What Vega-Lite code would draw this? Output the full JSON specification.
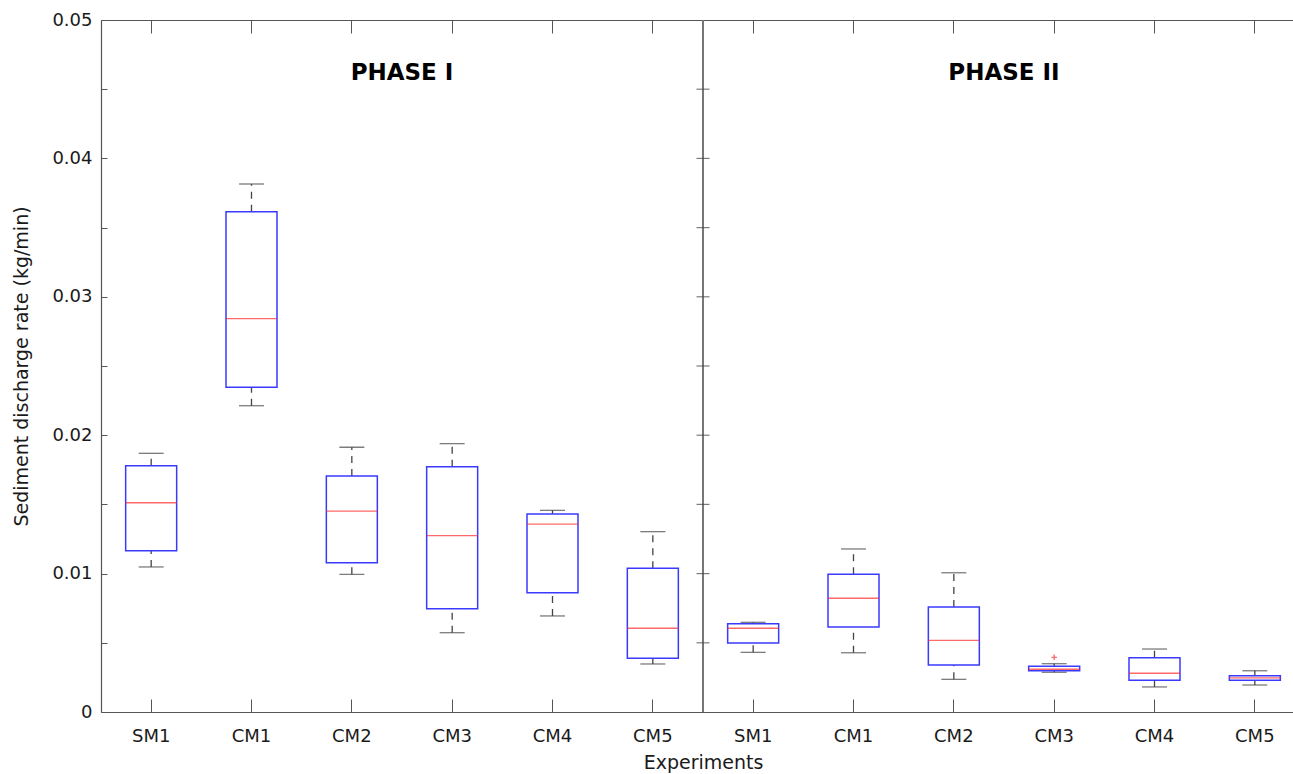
{
  "$schema": "https://vega.github.io/schema/vega-lite/v6.json",
  "width": 1204,
  "height": 692,
  "autosize": "none",
  "padding": {"left": 101, "top": 20, "right": 0, "bottom": 62},
  "background": "white",
  "config": {
    "view": {"stroke": null},
    "font": "DejaVu Sans",
    "axis": {
      "domainColor": "#555",
      "domainWidth": 1.2,
      "tickColor": "#555",
      "tickWidth": 1,
      "labelColor": "#1a1a1a",
      "titleColor": "#1a1a1a",
      "labelFont": "DejaVu Sans",
      "titleFont": "DejaVu Sans",
      "labelFontSize": 18,
      "titleFontSize": 19,
      "titleFontWeight": "normal",
      "grid": false
    }
  },
  "datasets": {
    "boxes": [
      {"key": "I SM1", "lower": 0.01048, "q1": 0.01165, "median": 0.01512, "q3": 0.01780, "upper": 0.01869},
      {"key": "I CM1", "lower": 0.02213, "q1": 0.02346, "median": 0.02842, "q3": 0.03615, "upper": 0.03815},
      {"key": "I CM2", "lower": 0.00995, "q1": 0.01078, "median": 0.01452, "q3": 0.01705, "upper": 0.01913},
      {"key": "I CM3", "lower": 0.00573, "q1": 0.00746, "median": 0.01274, "q3": 0.01772, "upper": 0.01939},
      {"key": "I CM4", "lower": 0.00694, "q1": 0.00862, "median": 0.01358, "q3": 0.01431, "upper": 0.01457},
      {"key": "I CM5", "lower": 0.00347, "q1": 0.00388, "median": 0.00605, "q3": 0.01038, "upper": 0.01303},
      {"key": "II SM1", "lower": 0.00431, "q1": 0.00499, "median": 0.00605, "q3": 0.00638, "upper": 0.00648},
      {"key": "II CM1", "lower": 0.00428, "q1": 0.00614, "median": 0.00822, "q3": 0.00995, "upper": 0.01178},
      {"key": "II CM2", "lower": 0.00236, "q1": 0.00340, "median": 0.00518, "q3": 0.00759, "upper": 0.01006},
      {"key": "II CM3", "lower": 0.00287, "q1": 0.00298, "median": 0.00309, "q3": 0.00330, "upper": 0.00349},
      {"key": "II CM4", "lower": 0.00181, "q1": 0.00229, "median": 0.00280, "q3": 0.00392, "upper": 0.00455},
      {"key": "II CM5", "lower": 0.00195, "q1": 0.00229, "median": 0.00246, "q3": 0.00262, "upper": 0.00298}
    ],
    "outliers": [
      {"key": "II CM3", "value": 0.00395}
    ],
    "divider": [
      {"key": "I CM5", "value": 0.005},
      {"key": "I CM5", "value": 0.010},
      {"key": "I CM5", "value": 0.015},
      {"key": "I CM5", "value": 0.020},
      {"key": "I CM5", "value": 0.025},
      {"key": "I CM5", "value": 0.030},
      {"key": "I CM5", "value": 0.035},
      {"key": "I CM5", "value": 0.040},
      {"key": "I CM5", "value": 0.045}
    ],
    "phases": [
      {"key": "I CM2", "label": "PHASE I"},
      {"key": "II CM2", "label": "PHASE II"}
    ]
  },
  "layer": [
    {
      "data": {"name": "boxes"},
      "mark": {"type": "rule", "color": "#444", "strokeWidth": 1.3, "strokeDash": [7, 6]},
      "encoding": {
        "x": {"field": "key", "type": "nominal", "sort": null, "scale": {"type": "band", "paddingInner": 0, "paddingOuter": 0}, "axis": null},
        "y": {"field": "q3", "type": "quantitative", "scale": {"domain": [0, 0.05], "nice": false}, "axis": null},
        "y2": {"field": "upper"}
      }
    },
    {
      "data": {"name": "boxes"},
      "mark": {"type": "rule", "color": "#444", "strokeWidth": 1.3, "strokeDash": [7, 6]},
      "encoding": {
        "x": {"field": "key", "type": "nominal", "sort": null, "axis": null},
        "y": {"field": "lower", "type": "quantitative", "axis": null},
        "y2": {"field": "q1"}
      }
    },
    {
      "data": {"name": "boxes"},
      "mark": {"type": "tick", "color": "#444", "size": 25, "thickness": 1.3, "orient": "horizontal"},
      "encoding": {
        "x": {"field": "key", "type": "nominal", "sort": null, "axis": null},
        "y": {"field": "upper", "type": "quantitative", "axis": null}
      }
    },
    {
      "data": {"name": "boxes"},
      "mark": {"type": "tick", "color": "#444", "size": 25, "thickness": 1.3, "orient": "horizontal"},
      "encoding": {
        "x": {"field": "key", "type": "nominal", "sort": null, "axis": null},
        "y": {"field": "lower", "type": "quantitative", "axis": null}
      }
    },
    {
      "data": {"name": "boxes"},
      "mark": {"type": "bar", "size": 51, "fill": "white", "stroke": "#3a3aff", "strokeWidth": 1.5},
      "encoding": {
        "x": {
          "field": "key", "type": "nominal", "sort": null,
          "axis": {
            "orient": "bottom",
            "title": "Experiments",
            "labelExpr": "split(datum.value, ' ')[1]",
            "labelAngle": 0,
            "tickSize": -13,
            "labelPadding": 28,
            "titlePadding": 8
          }
        },
        "y": {
          "field": "q1", "type": "quantitative",
          "axis": {
            "title": "Sediment discharge rate (kg/min)",
            "values": [0, 0.005, 0.01, 0.015, 0.02, 0.025, 0.03, 0.035, 0.04, 0.045, 0.05],
            "labelExpr": "round(datum.value * 1000) % 10 === 0 ? (datum.value === 0 ? '0' : format(datum.value, '.2f')) : ''",
            "tickSize": -6,
            "labelPadding": 15,
            "titlePadding": 20
          }
        },
        "y2": {"field": "q3"}
      }
    },
    {
      "data": {"name": "boxes"},
      "mark": {"type": "tick", "color": "#ff2a2a", "size": 51, "thickness": 1.3, "orient": "horizontal"},
      "encoding": {
        "x": {"field": "key", "type": "nominal", "sort": null, "axis": null},
        "y": {"field": "median", "type": "quantitative", "axis": null}
      }
    },
    {
      "data": {"name": "outliers"},
      "mark": {"type": "point", "shape": "M-1,0H1M0,-1V1", "stroke": "#ff2a2a", "strokeWidth": 1.3, "size": 30, "filled": false},
      "encoding": {
        "x": {"field": "key", "type": "nominal", "sort": null, "axis": null},
        "y": {"field": "value", "type": "quantitative", "axis": null}
      }
    },
    {
      "data": {"name": "divider"},
      "mark": {"type": "rule", "color": "#777", "strokeWidth": 1.5},
      "encoding": {
        "x": {
          "field": "key", "type": "nominal", "sort": null, "bandPosition": 1,
          "axis": {"orient": "top", "title": null, "labels": false, "tickSize": -13, "domain": true}
        }
      }
    },
    {
      "data": {"name": "divider"},
      "mark": {"type": "tick", "color": "#444", "size": 13, "thickness": 1.2, "orient": "horizontal", "xOffset": 50.17},
      "encoding": {
        "x": {"field": "key", "type": "nominal", "sort": null, "axis": null},
        "y": {"field": "value", "type": "quantitative", "axis": null}
      }
    },
    {
      "data": {"name": "phases"},
      "mark": {"type": "text", "font": "DejaVu Sans", "fontSize": 23, "fontWeight": "bold", "color": "#000", "align": "center", "baseline": "middle"},
      "encoding": {
        "x": {"field": "key", "type": "nominal", "sort": null, "bandPosition": 1, "axis": null},
        "y": {"datum": 0.0462, "type": "quantitative", "axis": null},
        "text": {"field": "label"}
      }
    }
  ],
  "resolve": {"axis": {"x": "independent", "y": "independent"}}
}
